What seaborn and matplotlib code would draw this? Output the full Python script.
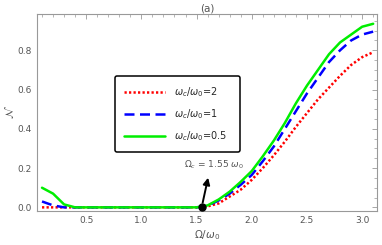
import numpy as np
import pandas as pd
import seaborn as sns
import matplotlib.pyplot as plt
from matplotlib.ticker import MultipleLocator

# Omega / omega_0 grid and N values
omega = [0.1, 0.2, 0.3, 0.4, 0.5, 0.6, 0.7, 0.8, 0.9, 1.0, 1.1, 1.2, 1.3, 1.4, 1.5,
         1.6, 1.7, 1.8, 1.9, 2.0, 2.1, 2.2, 2.3, 2.4, 2.5, 2.6, 2.7, 2.8, 2.9, 3.0, 3.1]
n_ratio2 = [0.0, 0.0, 0.0, 0.0, 0.0, 0.0, 0.0, 0.0, 0.0, 0.0, 0.0, 0.0, 0.0, 0.0, 0.0,
            0.005, 0.02, 0.055, 0.09, 0.14, 0.20, 0.265, 0.335, 0.41, 0.48, 0.55, 0.61, 0.67, 0.725, 0.765, 0.79]
n_ratio1 = [0.03, 0.01, 0.0, 0.0, 0.0, 0.0, 0.0, 0.0, 0.0, 0.0, 0.0, 0.0, 0.0, 0.0, 0.0,
            0.008, 0.035, 0.07, 0.115, 0.165, 0.235, 0.31, 0.40, 0.49, 0.58, 0.66, 0.74, 0.80, 0.85, 0.88, 0.895]
n_ratio05 = [0.10, 0.07, 0.015, 0.0, 0.0, 0.0, 0.0, 0.0, 0.0, 0.0, 0.0, 0.0, 0.0, 0.0, 0.0,
             0.01, 0.04, 0.08, 0.13, 0.185, 0.26, 0.34, 0.43, 0.53, 0.62, 0.70, 0.78, 0.84, 0.88, 0.92, 0.935]
labels = [r'$\omega_c/\omega_0$=2', r'$\omega_c/\omega_0$=1', r'$\omega_c/\omega_0$=0.5']
omega_c = 1.55

df = pd.DataFrame({
    'omega': omega * 3,
    'N': n_ratio2 + n_ratio1 + n_ratio05,
    'case': [labels[0]] * len(omega) + [labels[1]] * len(omega) + [labels[2]] * len(omega),
})

sns.set_style('white')
plt.rcParams['font.family'] = ['DejaVu Sans']
plt.rcParams['mathtext.fontset'] = 'dejavusans'

fig = plt.figure(figsize=(3.82, 2.45), dpi=100)
ax = fig.add_axes([0.097, 0.14, 0.89, 0.803])

colors = ['#ff0000', '#0000ff', '#00ee00']
dashes = [(0.9, 0.9), (4, 2.2), ()]
for lab, c, d in zip(labels, colors, dashes):
    sub = df[df['case'] == lab]
    sns.lineplot(data=sub, x='omega', y='N', color=c, lw=1.8, ax=ax, label=lab)
    if d:
        ax.lines[-1].set_dashes(d)

ax.set_xlim(0.055, 3.135)
ax.set_ylim(-0.017, 0.985)

ax.xaxis.set_major_locator(MultipleLocator(0.5))
ax.xaxis.set_minor_locator(MultipleLocator(0.1))
ax.yaxis.set_major_locator(MultipleLocator(0.2))
ax.yaxis.set_minor_locator(MultipleLocator(0.05))
ax.tick_params(which='both', direction='in', top=True, right=True, colors='#999999',
               labelcolor='#555555', labelsize=6.5, pad=4)
ax.tick_params(which='major', length=3.5, width=0.6)
ax.tick_params(which='minor', length=2, width=0.5)
for s in ax.spines.values():
    s.set_color('#999999')
    s.set_linewidth(0.8)

ax.set_xlabel(r'$\Omega/\omega_0$', fontsize=7.5, color='#555555', labelpad=2)
ax.set_ylabel(r'$\mathcal{N}$', fontsize=8, color='#555555', labelpad=1)
ax.set_title('(a)', fontsize=7.5, color='#555555', pad=2)

# critical frequency marker
ax.plot([omega_c], [0.0], 'o', color='black', ms=5, zorder=5)
ax.annotate('', xy=(1.61, 0.165), xytext=(omega_c, 0.01),
            arrowprops=dict(arrowstyle='-|>', color='black', lw=1.4, mutation_scale=10))
ax.text(1.66, 0.215, r'$\Omega_c$ = 1.55 $\omega_0$', fontsize=6.5, color='#555555',
        ha='center', va='center')

leg = ax.legend(loc='upper left', bbox_to_anchor=(0.229, 0.685), borderaxespad=0,
                fontsize=7, frameon=True, fancybox=True, edgecolor='black',
                handlelength=4.2, labelspacing=0.85, borderpad=0.95, handletextpad=0.9)
leg.get_frame().set_linewidth(1.1)
leg.get_frame().set_alpha(1)
# pad the right side of the box like the original
for t in leg.get_texts():
    t.set_text(t.get_text() + '  ')

fig.savefig('out.png', dpi=100)
